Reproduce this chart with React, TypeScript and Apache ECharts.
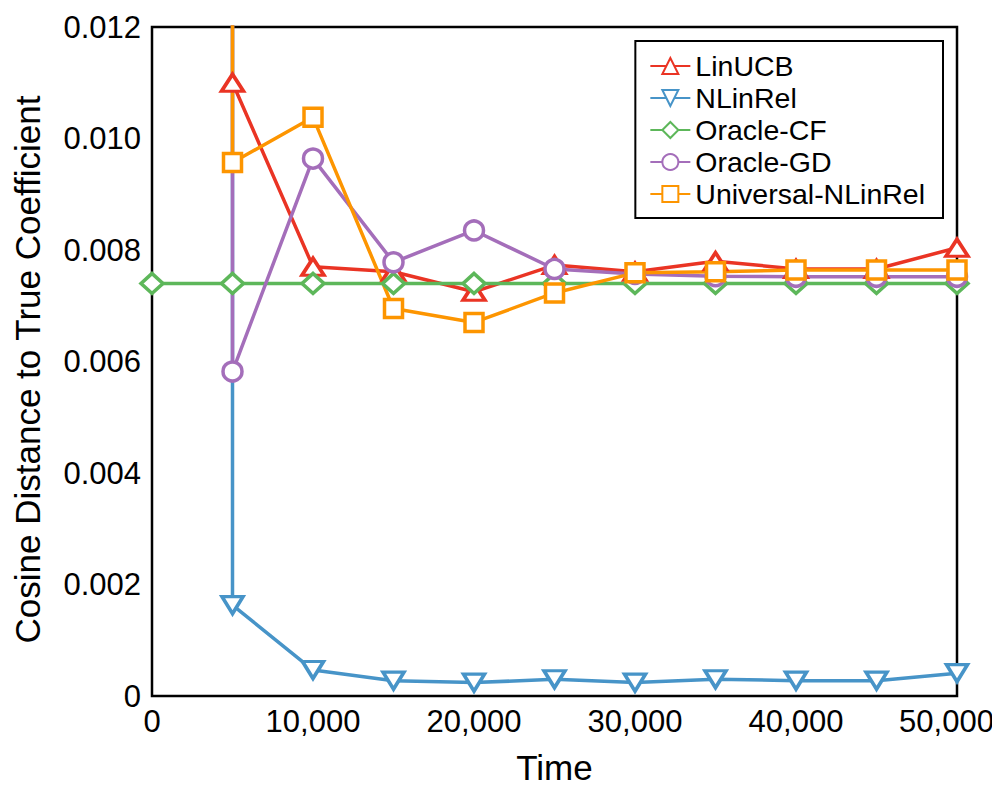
import React, { useEffect, useRef } from "react";
import * as echarts from "echarts";

// Evaluation times (rounds)
const times = [5000, 10000, 15000, 20000, 25000, 30000, 35000, 40000, 45000, 50000];
const cfTimes = [0, ...times];

// Cosine distance to the true coefficient, per method
const linUCB = [0.011, 0.0077, 0.00761, 0.00725, 0.00773, 0.00761, 0.0078, 0.00766, 0.00766, 0.00804];
const nLinRel = [0.00163, 0.000466, 0.000275, 0.00024, 0.0003, 0.00024, 0.0003, 0.000275, 0.000275, 0.00041];
const oracleCF = [0.0074, 0.0074, 0.0074, 0.0074, 0.0074, 0.0074, 0.0074, 0.0074, 0.0074, 0.0074, 0.0074];
const oracleGD = [0.00582, 0.00964, 0.00778, 0.00835, 0.00766, 0.00757, 0.00753, 0.00752, 0.00752, 0.00752];
const universalNLinRel = [0.00957, 0.01038, 0.00695, 0.0067, 0.00723, 0.00759, 0.00761, 0.00764, 0.00764, 0.00764];

// Warm-up distance recorded at the first evaluation round (far above the axis range)
const warmupNLinRel = 0.03;
const warmupOracleGD = 0.03;
const warmupUniversal = 0.03;

const xMax = 50000;
const yTicks = [0, 0.002, 0.004, 0.006, 0.008, 0.01, 0.012];

const COLORS = {
  linUCB: "#ea3424",
  nLinRel: "#4794c8",
  oracleCF: "#5db75a",
  oracleGD: "#a46eba",
  universal: "#fd9500",
};

const FONT = "'Liberation Sans', Arial, Helvetica, sans-serif";
const NARROW = "'Liberation Sans Narrow', 'Liberation Sans', Arial, sans-serif";

function pairs(xs: number[], ys: number[], lead?: number): number[][] {
  const out = xs.map((x, i) => [x, ys[i]]);
  if (lead !== undefined) out.unshift([xs[0], lead]);
  return out;
}

function makeSeries(
  name: string,
  color: string,
  data: number[][],
  symbol: string,
  symbolSize: number | number[],
  symbolRotate = 0
) {
  return {
    name,
    type: "line",
    data,
    color,
    symbol,
    symbolSize,
    symbolRotate,
    showAllSymbol: true,
    clip: true,
    lineStyle: { color, width: 3.5 },
    itemStyle: { color: "#ffffff", borderColor: color, borderWidth: 3.5 },
    emphasis: { disabled: true },
    z: 2,
  };
}

export default function App() {
  const ref = useRef<HTMLDivElement>(null);

  useEffect(() => {
    if (!ref.current) return;
    const chart = echarts.init(ref.current, undefined, { renderer: "svg" });
    chart.setOption({
      animation: false,
      backgroundColor: "#ffffff",
      grid: {
        left: 152,
        right: 43,
        top: 27,
        bottom: 104,
        outerBoundsMode: "none",
        containLabel: false,
        show: true,
        borderColor: "#000000",
        borderWidth: 2.5,
        backgroundColor: "transparent",
      },
      legend: {
        right: 57,
        top: 41,
        orient: "vertical",
        backgroundColor: "#ffffff",
        borderColor: "#000000",
        borderWidth: 2,
        borderRadius: 0,
        padding: [9, 18, 8, 14],
        itemWidth: 40,
        itemHeight: 20,
        itemGap: 0,
        textStyle: { fontFamily: FONT, fontSize: 28.5, color: "#000000", lineHeight: 32 },
        data: ["LinUCB", "NLinRel", "Oracle-CF", "Oracle-GD", "Universal-NLinRel"],
      },
      xAxis: {
        type: "value",
        min: 0,
        max: xMax,
        interval: 10000,
        name: "Time",
        nameLocation: "middle",
        nameGap: 54,
        nameTextStyle: { fontFamily: NARROW, fontSize: 35, color: "#000000" },
        axisLine: { show: false },
        axisTick: { show: false },
        splitLine: { show: false },
        axisLabel: {
          fontFamily: FONT,
          fontSize: 31,
          color: "#000000",
          margin: 10,
          formatter: (v: number) =>
            v === xMax ? `{edge|${v.toLocaleString("en-US")}}` : v.toLocaleString("en-US"),
          rich: {
            edge: { fontFamily: FONT, fontSize: 31, color: "#000000", padding: [0, 21, 0, 0] },
          },
        },
      },
      yAxis: {
        type: "value",
        min: yTicks[0],
        max: yTicks[yTicks.length - 1],
        interval: 0.002,
        name: "Cosine Distance to True Coefficient",
        nameLocation: "middle",
        nameGap: 107,
        nameRotate: 90,
        nameTextStyle: { fontFamily: NARROW, fontSize: 35, color: "#000000", padding: [0, 16, 0, 0] },
        axisLine: { show: false },
        axisTick: { show: false },
        splitLine: { show: false },
        axisLabel: {
          fontFamily: FONT,
          fontSize: 31,
          color: "#000000",
          margin: 11,
          formatter: (v: number) => (v === 0 ? "0" : v.toFixed(3)),
        },
      },
      series: [
        makeSeries("LinUCB", COLORS.linUCB, pairs(times, linUCB), "triangle", [22, 17]),
        makeSeries("NLinRel", COLORS.nLinRel, pairs(times, nLinRel, warmupNLinRel), "triangle", [21, 17], 180),
        makeSeries("Oracle-CF", COLORS.oracleCF, pairs(cfTimes, oracleCF), "diamond", [22, 20]),
        makeSeries("Oracle-GD", COLORS.oracleGD, pairs(times, oracleGD, warmupOracleGD), "circle", 19),
        makeSeries("Universal-NLinRel", COLORS.universal, pairs(times, universalNLinRel, warmupUniversal), "rect", 18),
      ],
    });
    return () => chart.dispose();
  }, []);

  return <div ref={ref} style={{ width: 1000, height: 800, margin: -8 }} />;
}
